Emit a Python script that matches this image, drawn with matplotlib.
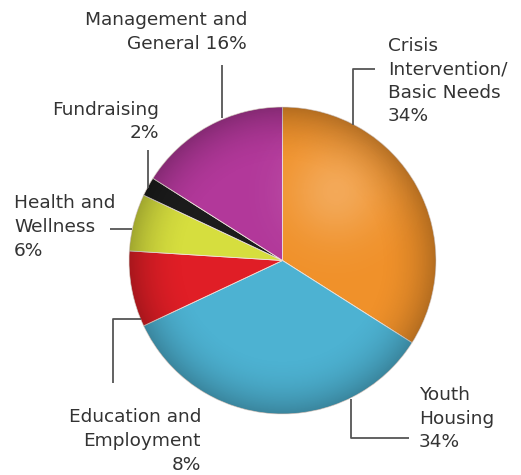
import numpy as np
import matplotlib
matplotlib.use("Agg")
import matplotlib.pyplot as plt
from matplotlib.patches import Circle

categories = ["Crisis\nIntervention/\nBasic Needs", "Youth\nHousing", "Education and\nEmployment",
              "Health and\nWellness", "Fundraising", "Management and\nGeneral"]
shares = [34, 34, 8, 6, 2, 16]
colors = ["#F0912A", "#4DB2D2", "#E01E26", "#D6DE3E", "#1C1C1C", "#B2389A"]

W, H = 521, 475
fig = plt.figure(figsize=(W / 100, H / 100), dpi=100)
ax = fig.add_axes([0, 0, 1, 1])

cx, cy, R = 282.5, H - 260.5, 153.5
wedges, _ = ax.pie(shares, colors=colors, startangle=90, counterclock=False,
                   center=(cx, cy), radius=R,
                   wedgeprops=dict(edgecolor="#efe3dc", linewidth=0.6))

# subtle spherical shading overlays
n = 400
yy, xx = np.mgrid[-1:1:n * 1j, -1:1:n * 1j]
r = np.sqrt(xx ** 2 + yy ** 2)
ext = (cx - R, cx + R, cy - R, cy + R)

dark = np.zeros((n, n, 4))
dark[..., 3] = np.clip((r - 0.6) / 0.4, 0, 1) ** 2.2 * 0.25
im1 = ax.imshow(dark, extent=ext, origin="lower", interpolation="bilinear", zorder=3)

hx, hy = 0.35, 0.45
hr2 = (xx - hx) ** 2 + (yy - hy) ** 2
light = np.ones((n, n, 4))
light[..., 3] = np.exp(-hr2 / (2 * 0.22 ** 2)) * 0.22
im2 = ax.imshow(light, extent=ext, origin="lower", interpolation="bilinear", zorder=3)
for im in (im1, im2):
    im.set_clip_path(Circle((cx, cy), R, transform=ax.transData))

ax.set_xlim(0, W)
ax.set_ylim(0, H)
ax.set_aspect("equal")
ax.axis("off")

lc = "#555555"
def line(xs, ys):
    ax.plot(xs, [H - y for y in ys], color=lc, lw=1.3, solid_capstyle="butt", zorder=4)

line([222, 222], [65, 118])
line([375, 353, 353], [69, 69, 125])
line([148, 148], [150, 188])
line([110, 132], [229, 229])
line([113, 113, 141], [383, 319, 319])
line([351, 351, 409], [399, 438, 438])

tc = "#333333"
fs = 13.3
ls = 1.4
def label(x, yc, text, ha):
    ax.text(x, H - yc, text, ha=ha, va="center", fontsize=fs, color=tc,
            linespacing=ls, family="DejaVu Sans")

label(247, 32, categories[5] + " 16%", "right")
label(388, 81, categories[0] + "\n34%", "left")
label(159, 121.5, categories[4] + "\n2%", "right")
label(14, 227, categories[3] + "\n6%", "left")
label(201, 441, categories[2] + "\n8%", "right")
label(419, 418.5, categories[1] + "\n34%", "left")

fig.savefig("out.png", dpi=100)
